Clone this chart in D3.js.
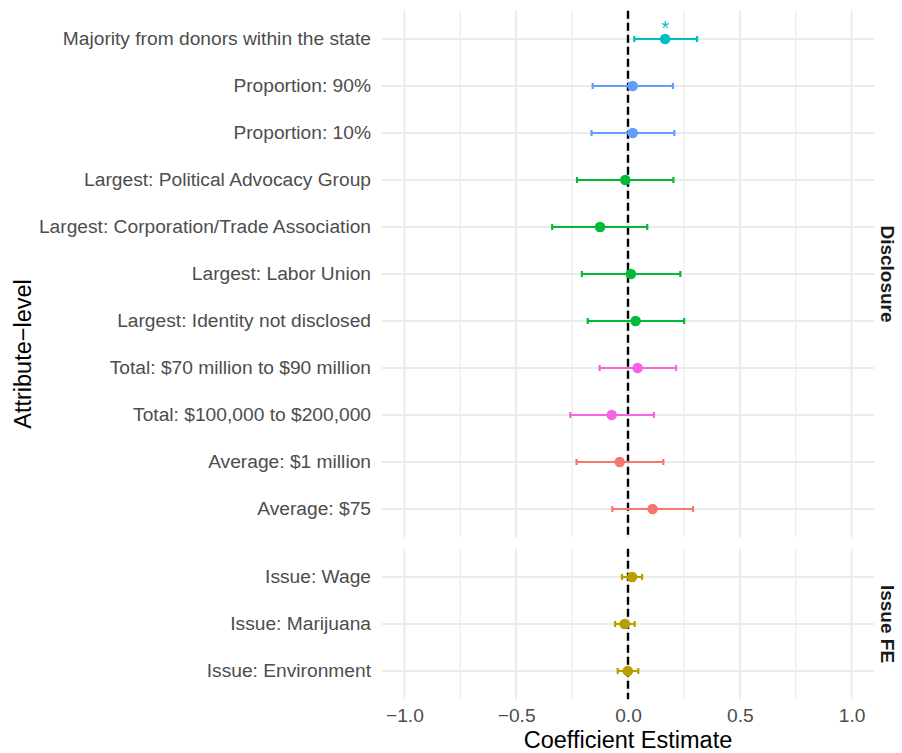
<!DOCTYPE html>
<html><head><meta charset="utf-8">
<script src="https://cdn.jsdelivr.net/npm/d3@7"></script>
<style>body{margin:0;background:#fff}svg{display:block;font-family:"Liberation Sans",Arial,sans-serif}</style>
</head><body><svg id="c" width="902" height="753"></svg>
<script>
// Data
const disclosureLevels = ["Majority from donors within the state","Proportion: 90%","Proportion: 10%","Largest: Political Advocacy Group","Largest: Corporation/Trade Association","Largest: Labor Union","Largest: Identity not disclosed","Total: $70 million to $90 million","Total: $100,000 to $200,000","Average: $1 million","Average: $75"];
const disclosureGroups = ["Majority","Proportion","Proportion","Largest","Largest","Largest","Largest","Total","Total","Average","Average"];
const disclosureEst = [0.166,0.021,0.021,-0.012,-0.125,0.013,0.034,0.043,-0.073,-0.037,0.110];
const disclosureLo = [0.028,-0.158,-0.163,-0.228,-0.339,-0.206,-0.180,-0.127,-0.258,-0.230,-0.070];
const disclosureHi = [0.309,0.201,0.207,0.203,0.086,0.234,0.251,0.215,0.116,0.158,0.291];
const disclosureSig = ["*","","","","","","","","","",""];
const issueLevels = ["Issue: Wage","Issue: Marijuana","Issue: Environment"];
const issueGroups = ["Issue","Issue","Issue"];
const issueEst = [0.018,-0.015,-0.001];
const issueLo = [-0.027,-0.058,-0.046];
const issueHi = [0.063,0.030,0.046];
const issueSig = ["","",""];
const groupNames = ["Average","Issue","Largest","Majority","Proportion","Total"];
const groupColors = ["#F8766D","#B79F00","#00BA38","#00BFC4","#619CFF","#F564E3"];
const xTicks = [-1,-0.5,0,0.5,1];
const xMinor = [-0.75,-0.25,0.25,0.75];

const svg = d3.select("#c");
const color = d3.scaleOrdinal(groupNames, groupColors);
const x = d3.scaleLinear().domain([-1.1,1.1]).range([382,874]);
const step = 47;
const FONT = "Liberation Sans, Arial, sans-serif";

const panels = [
  {name:"Disclosure", levels:disclosureLevels, groups:disclosureGroups, est:disclosureEst, lo:disclosureLo, hi:disclosureHi, sig:disclosureSig, top:10.8},
  {name:"Issue FE", levels:issueLevels, groups:issueGroups, est:issueEst, lo:issueLo, hi:issueHi, sig:issueSig, top:548.8}
];

panels.forEach(p => {
  const h = (p.levels.length - 1 + 1.2) * step;
  const y = d3.scalePoint().domain(p.levels).range([p.top, p.top + h]).padding(0.6);
  const g = svg.append("g");
  g.selectAll(".mn").data(xMinor).join("line")
    .attr("x1", d=>x(d)).attr("x2", d=>x(d)).attr("y1", p.top).attr("y2", p.top+h)
    .attr("stroke","#EBEBEB").attr("stroke-width",1.1);
  g.selectAll(".mj").data(xTicks).join("line")
    .attr("x1", d=>x(d)).attr("x2", d=>x(d)).attr("y1", p.top).attr("y2", p.top+h)
    .attr("stroke","#EBEBEB").attr("stroke-width",2.1);
  g.selectAll(".hy").data(p.levels).join("line")
    .attr("x1", 382).attr("x2", 874).attr("y1", d=>y(d)).attr("y2", d=>y(d))
    .attr("stroke","#EBEBEB").attr("stroke-width",2.1);
  g.append("line").attr("x1",x(0)).attr("x2",x(0)).attr("y1",p.top).attr("y2",p.top+h)
    .attr("stroke","#000").attr("stroke-width",2.4).attr("stroke-dasharray","8,4");
  const ax = d3.axisLeft(y).tickSize(0).tickPadding(11);
  const ag = svg.append("g").attr("transform","translate(382,0)").call(ax);
  ag.select(".domain").remove();
  ag.selectAll("text").attr("font-size",19.2).attr("fill","#4D4D4D").attr("font-family",FONT).attr("dy","0.3em");
  const idx = d3.range(p.levels.length);
  const cap = 3;
  idx.forEach(i => {
    const yy = y(p.levels[i]); const c = color(p.groups[i]);
    g.append("line").attr("x1",x(p.lo[i])).attr("x2",x(p.hi[i])).attr("y1",yy).attr("y2",yy).attr("stroke",c).attr("stroke-width",2.2);
    [p.lo[i],p.hi[i]].forEach(v => g.append("line").attr("x1",x(v)).attr("x2",x(v)).attr("y1",yy-cap).attr("y2",yy+cap).attr("stroke",c).attr("stroke-width",2.2));
    g.append("circle").attr("cx",x(p.est[i])).attr("cy",yy).attr("r",5.3).attr("fill",c);
    if (p.sig[i]) g.append("text").attr("x",x(p.est[i])).attr("y",yy-4.5).attr("text-anchor","middle")
      .attr("font-size",20).attr("fill",c).attr("font-family",FONT).text(p.sig[i]);
  });
  svg.append("text").attr("transform",`translate(887,${p.top+h/2}) rotate(90)`).attr("text-anchor","middle")
    .attr("dominant-baseline","central").attr("font-size",19).attr("font-weight","bold").attr("fill","#1A1A1A").attr("font-family",FONT).text(p.name);
  p.bottom = p.top + h;
});

const xa = svg.append("g").attr("transform",`translate(0,${panels[1].bottom})`)
  .call(d3.axisBottom(x).tickValues(xTicks).tickSize(0).tickPadding(9).tickFormat(d=>d3.format(".1f")(d).replace("-","\u2212")));
xa.select(".domain").remove();
xa.selectAll("text").attr("font-size",19.2).attr("fill","#4D4D4D").attr("font-family",FONT);

svg.append("text").attr("x",628).attr("y",748).attr("text-anchor","middle").attr("font-size",23.5).attr("fill","#000").attr("font-family",FONT).text("Coefficient Estimate");
svg.append("text").attr("transform","translate(31,354) rotate(-90)").attr("text-anchor","middle").attr("font-size",23.5).attr("fill","#000").attr("font-family",FONT).text("Attribute\u2212level");
</script></body></html>
